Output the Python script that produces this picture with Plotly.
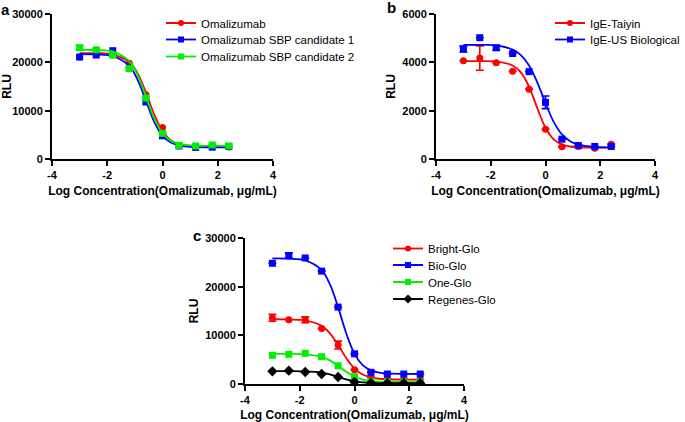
import plotly.graph_objects as go

# ---------------- data ----------------
log_conc = [-3.0, -2.4, -1.8, -1.2, -0.6, 0.0, 0.6, 1.2, 1.8, 2.4]
curve_x = [-3.0, -2.4, -1.8, -1.2, -0.9, -0.6, -0.3, 0.0, 0.3, 0.6, 0.9, 1.2, 1.8, 2.4]

# panel a
a_names = ["Omalizumab", "Omalizumab SBP candidate 1", "Omalizumab SBP candidate 2"]
a_omal = [21100, 21800, 21500, 19800, 13300, 6500, 2700, 2600, 2600, 2500]
a_c1 = [21100, 21500, 22400, 18800, 11800, 4800, 2700, 2400, 2450, 2600]
a_c2 = [23000, 22600, 21500, 18700, 12600, 5300, 2800, 2700, 2900, 2700]
a_c2_err = [500, 200, 200, 300, 300, 200, 0, 0, 0, 0]
a_omal_fit = [21900, 21900, 21610, 20060, 17720, 13770, 9210, 5770, 3910, 3090, 2760, 2630, 2560, 2550]
a_c1_fit = [21700, 21640, 21300, 19270, 16390, 12050, 7710, 4840, 3400, 2800, 2550, 2460, 2410, 2400]
a_c2_fit = [22600, 22540, 22220, 20230, 17370, 12970, 8430, 5360, 3800, 3130, 2870, 2760, 2710, 2700]

# panel b
b_names = ["IgE-Taiyin", "IgE-US Biological"]
b_taiyin = [4065, 4175, 3980, 3630, 2890, 1230, 505, 520, 450, 615]
b_taiyin_err = [0, 500, 0, 0, 0, 0, 0, 0, 0, 0]
b_us = [4550, 5020, 4600, 4365, 3615, 2345, 820, 560, 520, 520]
b_us_err = [120, 0, 100, 0, 0, 260, 0, 0, 0, 0]
b_taiyin_fit = [4050, 4047, 4026, 3870, 3583, 2990, 2106, 1293, 813, 600, 517, 487, 471, 470]
b_us_fit = [4720, 4718, 4705, 4525, 4300, 3870, 3173, 2310, 1535, 1016, 732, 594, 502, 485]

# panel c
c_names = ["Bright-Glo", "Bio-Glo", "One-Glo", "Regenes-Glo"]
c_bright = [13600, 13200, 13200, 11400, 8000, 2950, 1450, 1000, 1000, 900]
c_bright_err = [700, 0, 600, 0, 800, 0, 0, 0, 0, 0]
c_bio = [24800, 26400, 25900, 23200, 15800, 6200, 2400, 2050, 2050, 2050]
c_bio_err = [0, 500, 0, 0, 0, 0, 0, 0, 0, 0]
c_one = [5900, 6100, 6300, 5600, 3750, 1500, 550, 400, 400, 400]
c_regenes = [2600, 2740, 2470, 2050, 1440, 400, 200, 150, 150, 150]
c_bright_fit = [13300, 13260, 13050, 11940, 10420, 8020, 5300, 3170, 1940, 1340, 1080, 980, 910, 900]
c_bio_fit = [25800, 25740, 25400, 23400, 20500, 15800, 10380, 6200, 3890, 2810, 2350, 2170, 2070, 2050]
c_one_fit = [6200, 6180, 6080, 5560, 4860, 3750, 2510, 1500, 920, 625, 495, 440, 410, 400]
c_regenes_fit = [2650, 2640, 2590, 2340, 2000, 1490, 950, 550, 330, 230, 180, 160, 150, 150]

x_ticks = [-4, -2, 0, 2, 4]
x_tick_labels = ["-4", "-2", "0", "2", "4"]
x_title = "Log Concentration(Omalizumab, μg/mL)"
y_title = "RLU"

RED, BLUE, GREEN, BLACK = "#FF0000", "#0000FF", "#00EE00", "#000000"
FONT = "Liberation Sans, Arial, sans-serif"
TICKFONT = "Liberation Sans Narrow, Arial Narrow, Liberation Sans, sans-serif"

W, H = 685, 422

fig = go.Figure()
legend_pos = {}
legend_count = [0]


def add_series(name, y, fit, color, symbol, size, xa, ya, leg_x, leg_y, err=None):
    # fitted curve
    fig.add_trace(go.Scatter(x=curve_x, y=fit, mode="lines", line=dict(color=color, width=1.8, shape="spline", smoothing=1.0),
                             xaxis=xa, yaxis=ya, showlegend=False, hoverinfo="skip"))
    # data points
    kw = {}
    if err is not None:
        kw["error_y"] = dict(type="data", array=err, visible=True, color=color, thickness=1.6, width=4)
    fig.add_trace(go.Scatter(x=log_conc, y=y, mode="markers", marker=dict(color=color, symbol=symbol, size=size, line=dict(width=0)),
                             xaxis=xa, yaxis=ya, showlegend=False, name=name, **kw))
    # legend entry (no data) - one legend box per row
    legend_count[0] += 1
    lid = "legend" if legend_count[0] == 1 else f"legend{legend_count[0]}"
    legend_pos[lid] = (leg_x, leg_y)
    fig.add_trace(go.Scatter(x=[None], y=[None], mode="lines+markers", name=name,
                             line=dict(color=color, width=1.8), marker=dict(color=color, symbol=symbol, size=size - 1),
                             xaxis=xa, yaxis=ya, legend=lid, showlegend=True))


# legend text left edge (px) and row centre (px)
add_series(a_names[0], a_omal, a_omal_fit, RED, "circle", 7, "x", "y", 203, 23)
add_series(a_names[1], a_c1, a_c1_fit, BLUE, "square", 7, "x", "y", 203, 39.5)
add_series(a_names[2], a_c2, a_c2_fit, GREEN, "square", 7, "x", "y", 203, 56.5, a_c2_err)

add_series(b_names[0], b_taiyin, b_taiyin_fit, RED, "circle", 7, "x2", "y2", 592, 23, b_taiyin_err)
add_series(b_names[1], b_us, b_us_fit, BLUE, "square", 7, "x2", "y2", 592, 39.5, b_us_err)

add_series(c_names[0], c_bright, c_bright_fit, RED, "circle", 7, "x3", "y3", 430, 248.5, c_bright_err)
add_series(c_names[1], c_bio, c_bio_fit, BLUE, "square", 7, "x3", "y3", 430, 265, c_bio_err)
add_series(c_names[2], c_one, c_one_fit, GREEN, "square", 7, "x3", "y3", 430, 282)
add_series(c_names[3], c_regenes, c_regenes_fit, BLACK, "diamond", 8, "x3", "y3", 430, 299)

tickfont = dict(family=TICKFONT, size=11, color="black", weight="bold")
titlefont = dict(family=FONT, size=12, color="black", weight="bold")


def xaxis(dom, anchor):
    return dict(domain=dom, anchor=anchor, range=[-4, 4], tickvals=x_ticks, ticktext=x_tick_labels,
                showline=True, linewidth=2, linecolor="black",
                ticks="outside", ticklen=5, tickwidth=2, tickcolor="black", showgrid=False, zeroline=False,
                automargin=False, tickfont=tickfont, title=dict(text=x_title, font=titlefont, standoff=6))


def yaxis(dom, anchor, rng, dtick):
    return dict(domain=dom, anchor=anchor, range=rng, dtick=dtick, tickformat="d", showline=True, linewidth=2, linecolor="black",
                ticks="outside", ticklen=5, tickwidth=2, tickcolor="black", showgrid=False, zeroline=False,
                automargin=False, tickfont=tickfont, title=dict(text=y_title, font=titlefont, standoff=4))


def px_x(a, b):
    return [a / W, b / W]


def px_y(top, bottom):
    return [1 - bottom / H, 1 - top / H]


legfont = dict(family=FONT, size=11.5, color="black")
legends = {}
for lid, (lx, ly) in legend_pos.items():
    legends[lid] = dict(x=(lx - 42) / W, y=1 - ly / H, xanchor="left", yanchor="middle", font=legfont,
                        bgcolor="rgba(0,0,0,0)", borderwidth=0)

fig.update_layout(
    width=W, height=H, margin=dict(l=0, r=0, t=0, b=0, autoexpand=False),
    paper_bgcolor="white", plot_bgcolor="white",
    xaxis=xaxis(px_x(52, 273), "y"),
    yaxis=yaxis(px_y(14, 159), "x", [0, 30000], 10000),
    xaxis2=xaxis(px_x(436, 655), "y2"),
    yaxis2=yaxis(px_y(14, 159), "x2", [0, 6000], 2000),
    xaxis3=xaxis(px_x(245, 464), "y3"),
    yaxis3=yaxis(px_y(238, 384), "x3", [0, 30000], 10000),
    showlegend=True,
    **legends,
)

panel_font = dict(family=FONT, size=15, color="black", weight="bold")
for label, xp, yp in [("a", 5.5, 9), ("b", 392, 8), ("c", 196.5, 235)]:
    fig.add_annotation(text=label, x=xp / W, y=1 - yp / H, xref="paper", yref="paper", xanchor="center", yanchor="middle",
                       showarrow=False, font=panel_font, borderpad=0)

fig.write_html("out.html", config={"displayModeBar": False},
               post_script="document.body.style.margin='0';document.body.style.overflow='hidden';")
